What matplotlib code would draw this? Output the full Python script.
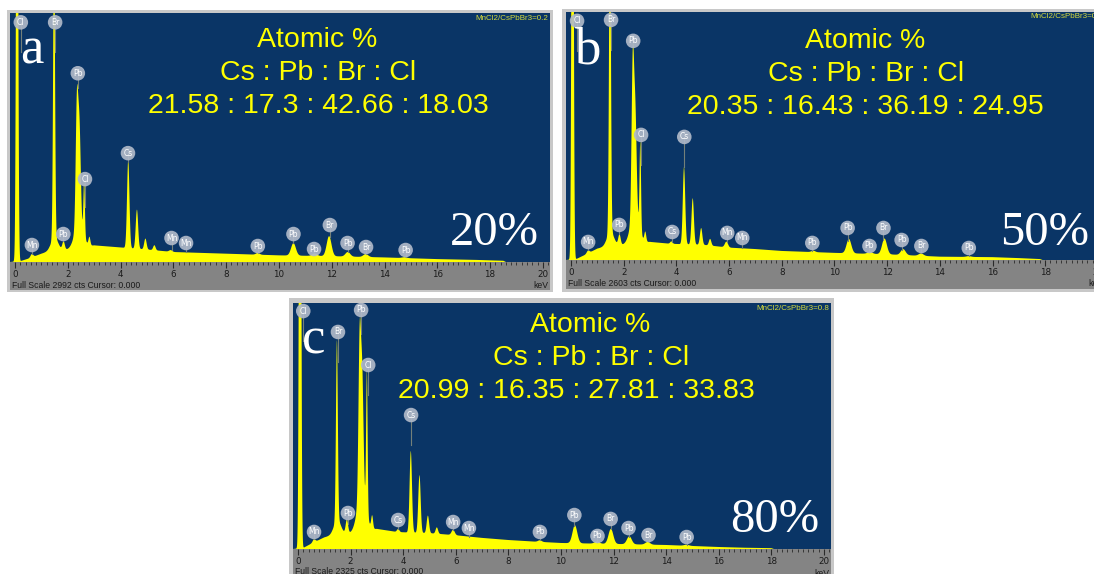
import numpy as np
import matplotlib
matplotlib.use('Agg')
import matplotlib.pyplot as plt
from matplotlib.ticker import MultipleLocator

W, H = 1094, 574

# ---- panel a : MnCl2/CsPbBr3 = 0.2 ----
a_full_scale = 2992
a_bg_kev = [-0.2, 0.2, 0.5, 1.0, 1.3, 2.0, 3.0, 3.8, 5.0, 6.0, 7.0, 8.0, 9.0, 10.0, 12.0, 14.0, 16.0, 17.5, 18.5, 18.6, 20.4]
a_bg_cts = [0, 10, 40, 100, 130, 150, 200, 180, 150, 120, 110, 100, 90, 80, 70, 55, 35, 25, 15, 0, 0]
a_peak_kev = [0.08, 0.64, 1.48, 1.50, 1.84, 2.345, 2.44, 2.42, 2.62, 2.82, 4.29, 4.62, 4.94, 5.28, 5.90, 9.20, 10.55, 11.35, 11.90, 12.61, 13.29, 14.76]
a_peak_cts = [8000, 40, 3600, 160, 100, 1450, 1150, 300, 660, 100, 1060, 470, 130, 60, 20, 20, 150, 30, 240, 55, 35, 10]
a_peak_sig = [0.035, 0.05, 0.035, 0.13, 0.045, 0.045, 0.05, 0.16, 0.028, 0.035, 0.045, 0.045, 0.045, 0.045, 0.06, 0.07, 0.09, 0.09, 0.09, 0.09, 0.09, 0.09]
a_lab_el = ['Cl', 'Br', 'Pb', 'Cl', 'Cs', 'Mn', 'Pb', 'Mn', 'Mn', 'Pb', 'Pb', 'Pb', 'Br', 'Pb', 'Br', 'Pb']
a_lab_kev = [0.22, 1.52, 2.38, 2.65, 4.28, 0.64, 1.83, 5.93, 6.48, 9.20, 10.55, 11.33, 11.93, 12.60, 13.30, 14.80]
a_lab_cts = [2880, 2880, 2268, 996, 1308, 204, 336, 288, 228, 192, 336, 156, 444, 228, 180, 144]

# ---- panel b : MnCl2/CsPbBr3 = 0.5 ----
b_full_scale = 2603
b_bg_kev = [-0.2, 0.2, 0.5, 1.0, 1.3, 2.0, 3.0, 3.8, 5.0, 6.0, 7.0, 8.0, 9.0, 10.0, 12.0, 14.0, 16.0, 17.0, 17.8, 17.9, 20.4]
b_bg_cts = [0, 10, 50, 120, 140, 160, 190, 170, 160, 130, 115, 95, 85, 75, 60, 35, 30, 20, 10, 0, 0]
b_peak_kev = [0.06, 0.65, 1.48, 1.50, 1.84, 2.345, 2.44, 2.42, 2.63, 2.82, 3.81, 4.29, 4.62, 4.94, 5.28, 5.90, 9.20, 10.55, 11.35, 11.90, 12.61, 13.29, 15.10]
b_peak_cts = [8000, 30, 3500, 150, 110, 1600, 1050, 330, 930, 100, 25, 810, 485, 175, 70, 60, 15, 150, 20, 165, 62, 25, 8]
b_peak_sig = [0.035, 0.05, 0.035, 0.13, 0.045, 0.045, 0.05, 0.16, 0.028, 0.035, 0.045, 0.045, 0.045, 0.045, 0.045, 0.06, 0.07, 0.09, 0.09, 0.09, 0.09, 0.09, 0.09]
b_lab_el = ['Cl', 'Br', 'Pb', 'Cl', 'Cs', 'Mn', 'Pb', 'Cs', 'Mn', 'Mn', 'Pb', 'Pb', 'Pb', 'Br', 'Pb', 'Br', 'Pb']
b_lab_kev = [0.23, 1.52, 2.36, 2.66, 4.30, 0.65, 1.83, 3.84, 5.93, 6.50, 9.16, 10.50, 11.33, 11.86, 12.55, 13.30, 15.10]
b_lab_cts = [2510, 2520, 2300, 1313, 1292, 189, 368, 294, 284, 231, 179, 336, 147, 336, 210, 147, 126]

# ---- panel c : MnCl2/CsPbBr3 = 0.8 ----
c_full_scale = 2325
c_bg_kev = [-0.2, 0.2, 0.5, 1.0, 1.3, 2.0, 3.0, 3.8, 5.0, 6.0, 7.0, 8.0, 9.0, 10.0, 12.0, 14.0, 16.0, 17.0, 18.0, 18.1, 20.4]
c_bg_cts = [0, 10, 50, 110, 130, 150, 190, 160, 150, 130, 105, 85, 70, 57, 48, 38, 19, 12, 8, 0, 0]
c_peak_kev = [0.08, 0.61, 1.48, 1.50, 1.86, 2.345, 2.44, 2.42, 2.62, 2.82, 3.81, 4.29, 4.62, 4.94, 5.28, 5.90, 9.20, 10.53, 11.37, 11.90, 12.60, 13.30, 14.78]
c_peak_cts = [8000, 30, 1700, 140, 130, 1450, 1100, 380, 1330, 120, 30, 770, 545, 165, 60, 50, 15, 170, 20, 142, 75, 25, 10]
c_peak_sig = [0.035, 0.05, 0.035, 0.13, 0.045, 0.045, 0.05, 0.16, 0.028, 0.035, 0.045, 0.045, 0.045, 0.045, 0.045, 0.06, 0.07, 0.09, 0.09, 0.09, 0.09, 0.09, 0.09]
c_lab_el = ['Cl', 'Br', 'Pb', 'Cl', 'Cs', 'Mn', 'Pb', 'Cs', 'Mn', 'Mn', 'Pb', 'Pb', 'Pb', 'Br', 'Pb', 'Br', 'Pb']
c_lab_kev = [0.20, 1.52, 2.40, 2.67, 4.30, 0.61, 1.90, 3.81, 5.90, 6.50, 9.20, 10.51, 11.39, 11.89, 12.57, 13.33, 14.78]
c_lab_cts = [2249, 2051, 2259, 1739, 1266, 161, 340, 274, 255, 198, 161, 321, 123, 284, 198, 132, 113]

ratios = ['0.2', '0.5', '0.8']
atomic = ['21.58 : 17.3 : 42.66 : 18.03', '20.35 : 16.43 : 36.19 : 24.95', '20.99 : 16.35 : 27.81 : 33.83']
letters = ['a', 'b', 'c']
percents = ['20%', '50%', '80%']

NAVY = '#0a3566'
YELLOW = '#ffff00'


def rect(x0, y0, x1, y1):
    return [x0 / W, 1 - y1 / H, (x1 - x0) / W, (y1 - y0) / H]


def blank(ax, color):
    ax.set_facecolor(color)
    ax.set_xticks([])
    ax.set_yticks([])
    for s in ax.spines.values():
        s.set_visible(False)


def ftext(x, y, s, **kw):
    fig.text(x / W, 1 - y / H, s, **kw)


def draw_panel(outer, navy, strip, full_scale, bg_kev, bg_cts, pk_kev, pk_cts, pk_sig,
               lab_el, lab_kev, lab_cts):
    blank(fig.add_axes(rect(*outer)), '#c8c8c8')
    blank(fig.add_axes(rect(*strip)), '#848484')
    ax = fig.add_axes(rect(*navy))
    ax.set_facecolor(NAVY)
    for s in ax.spines.values():
        s.set_visible(False)

    x = np.linspace(-0.2, 20.4, 6000)
    y = np.interp(x, bg_kev, bg_cts).astype(float)
    for e, h, s in zip(pk_kev, pk_cts, pk_sig):
        y += h * np.exp(-0.5 * ((x - e) / s) ** 2)
    ax.fill_between(x, 0, y, color=YELLOW, lw=0)
    ax.set_xlim(-0.19, 20.27)
    ax.set_ylim(0, full_scale)

    cpp = full_scale / (navy[3] - navy[1])
    for el, e, c in zip(lab_el, lab_kev, lab_cts):
        top = np.interp(e, x, y)
        low = max(top, c - 30 * cpp)
        if low < c:
            ax.plot([e, e], [low, c], color='#74807a', lw=0.8, zorder=3)
        ax.scatter([e], [c], s=110, color='#b0b9c9', alpha=0.92, edgecolors='none', zorder=4)
        ax.text(e, c, el, fontsize=5.5, color='white', ha='center', va='center', zorder=5)

    ax.set_yticks([])
    ax.xaxis.set_major_locator(MultipleLocator(2))
    ax.xaxis.set_minor_locator(MultipleLocator(0.2))
    ax.tick_params(axis='x', which='major', direction='out', length=4, width=0.8,
                   color='#2a2a2a', labelsize=6.3, labelcolor='#1a1a1a', pad=2)
    ax.tick_params(axis='x', which='minor', direction='out', length=2, width=0.6, color='#2a2a2a')
    return ax


fig = plt.figure(figsize=(W / 100, H / 100), dpi=100)
fig.patch.set_facecolor('white')

layouts = [
    dict(outer=(7, 10, 553, 292), navy=(10, 13, 550, 262), strip=(10, 262, 550, 290)),
    dict(outer=(562, 9, 1112, 292), navy=(566, 12, 1105, 260), strip=(566, 260, 1105, 289)),
    dict(outer=(289, 298, 834, 580), navy=(293, 303, 831, 549), strip=(293, 549, 831, 580)),
]
data = [
    (a_full_scale, a_bg_kev, a_bg_cts, a_peak_kev, a_peak_cts, a_peak_sig, a_lab_el, a_lab_kev, a_lab_cts),
    (b_full_scale, b_bg_kev, b_bg_cts, b_peak_kev, b_peak_cts, b_peak_sig, b_lab_el, b_lab_kev, b_lab_cts),
    (c_full_scale, c_bg_kev, c_bg_cts, c_peak_kev, c_peak_cts, c_peak_sig, c_lab_el, c_lab_kev, c_lab_cts),
]
# text anchors per panel (pixels): atomic block centre x, first line y, number line centre x,
# letter (x, baseline), percent (right, baseline)
anchors = [
    dict(cx=317, y0=40, ncx=318, let=(20, 64), pct=(539, 245)),
    dict(cx=865, y0=41, ncx=865, let=(574, 63), pct=(1089, 245)),
    dict(cx=590, y0=325, ncx=576, let=(302, 353), pct=(819, 532)),
]

sans = ['Liberation Sans', 'DejaVu Sans']
serif = ['Liberation Serif', 'DejaVu Serif']

for i in range(3):
    lay, d, an = layouts[i], data[i], anchors[i]
    draw_panel(lay['outer'], lay['navy'], lay['strip'], *d)
    nx0, ny0, nx1, ny1 = lay['navy']
    sx0, sy0, sx1, sy1 = lay['strip']

    ftext(nx1 - 2, ny0 + 5, 'MnCl2/CsPbBr3=' + ratios[i], fontsize=5.8, color='#d4da3c',
          ha='right', va='center', family=sans)
    ftext(an['cx'], an['y0'], 'Atomic %', fontsize=20.5, color=YELLOW, ha='center', va='center', family=sans)
    ftext(an['cx'] + 1, an['y0'] + 33, 'Cs : Pb : Br : Cl', fontsize=20.5, color=YELLOW,
          ha='center', va='center', family=sans)
    ftext(an['ncx'], an['y0'] + 66, atomic[i], fontsize=20.5, color=YELLOW, ha='center', va='center', family=sans)
    ftext(an['let'][0], an['let'][1], letters[i], fontsize=38, color='white', ha='left', va='baseline', family=serif)
    ftext(an['pct'][0], an['pct'][1], percents[i], fontsize=35, color='white', ha='right', va='baseline', family=serif)
    ftext(sx0 + 2, sy0 + 23, 'Full Scale %d cts Cursor: 0.000' % d[0], fontsize=6.2, color='#1a1a1a',
          ha='left', va='center', family=sans)
    ftext(sx1 - 2, sy0 + 24, 'keV', fontsize=6.2, color='#1a1a1a', ha='right', va='center', family=sans)

fig.savefig('out.png', dpi=100, facecolor='white')
